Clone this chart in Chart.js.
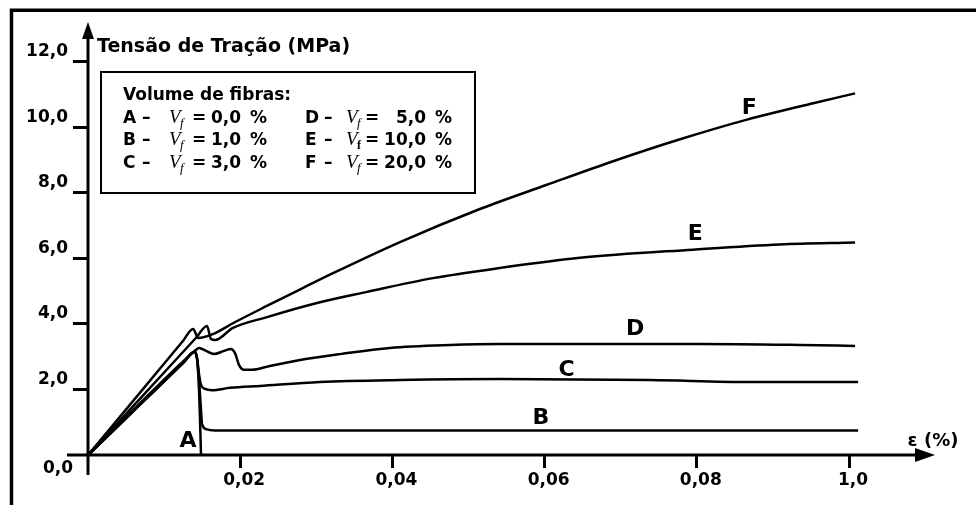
<!DOCTYPE html>
<html>
<head>
<meta charset="utf-8">
<script src="https://cdn.jsdelivr.net/npm/chart.js@4.4.0/dist/chart.umd.min.js"></script>
<style>
  html, body { margin: 0; padding: 0; background: #fff; }
  #wrap { width: 976px; height: 505px; position: relative; }
</style>
</head>
<body>
<div id="wrap"><canvas id="grafico"></canvas></div>
<script>
// deformação (%) e tensão (MPa), uma curva por teor de fibras
const epsA = [0, 0.007, 0.0125, 0.0140, 0.01432, 0.01459, 0.01472, 0.01485];
const sigA = [0, 1.575, 2.81, 3.15, 2.96, 1.98, 1.07, 0];

const epsB = [0, 0.007, 0.0125, 0.0140, 0.01432, 0.01459, 0.01485, 0.01498, 0.01551, 0.01669, 0.02786, 0.05414, 0.1012];
const sigB = [0, 1.575, 2.81, 3.15, 2.96, 2.29, 1.37, 0.95, 0.79, 0.75, 0.75, 0.75, 0.75];

const epsC = [0, 0.007, 0.0125, 0.0140, 0.01432, 0.01459, 0.01485, 0.01537, 0.01629, 0.01866, 0.0226, 0.03049, 0.041, 0.05414, 0.07385, 0.08699, 0.1012];
const sigC = [0, 1.575, 2.81, 3.15, 2.96, 2.47, 2.14, 2.02, 1.98, 2.05, 2.11, 2.23, 2.29, 2.32, 2.29, 2.23, 2.23];

const epsD = [0, 0.007, 0.0125, 0.01406, 0.01459, 0.01551, 0.01656, 0.01787, 0.01879, 0.01932, 0.01984, 0.0205, 0.02155, 0.02392, 0.02786, 0.03311, 0.03968, 0.04757, 0.05414, 0.06728, 0.08042, 0.09356, 0.1008];
const sigD = [0, 1.62, 2.86, 3.18, 3.27, 3.18, 3.08, 3.18, 3.24, 3.11, 2.75, 2.60, 2.60, 2.72, 2.90, 3.08, 3.27, 3.36, 3.39, 3.39, 3.39, 3.36, 3.33];

const epsE = [0, 0.007, 0.0142, 0.01564, 0.01616, 0.01669, 0.01905, 0.02352, 0.03009, 0.03666, 0.04534, 0.05414, 0.06465, 0.0795, 0.0909, 0.1008];
const sigE = [0, 1.76, 3.58, 3.94, 3.54, 3.51, 3.88, 4.21, 4.64, 4.98, 5.40, 5.71, 6.02, 6.27, 6.43, 6.49];

const epsF = [0, 0.007, 0.0125, 0.0138, 0.0145, 0.0164, 0.0191, 0.0235, 0.0279, 0.0322, 0.0410, 0.0515, 0.0603, 0.0690, 0.0778, 0.0866, 0.0953, 0.1008];
const sigF = [0, 1.95, 3.49, 3.85, 3.57, 3.69, 4.03, 4.55, 5.06, 5.55, 6.50, 7.51, 8.25, 8.97, 9.64, 10.24, 10.74, 11.04];

const xTicks = [0.02, 0.04, 0.06, 0.08, 0.10];
const xTickLabels = ['0,02', '0,04', '0,06', '0,08', '1,0'];
const yTicks = [2, 4, 6, 8, 10, 12];
const yTickLabels = ['2,0', '4,0', '6,0', '8,0', '10,0', '12,0'];

const tituloY = 'Tensão de Tração (MPa)';
const tituloX = 'ε (%)';
const origemLabel = '0,0';

const legendaTitulo = 'Volume de fibras:';
const legendaLetras = ['A', 'B', 'C', 'D', 'E', 'F'];
const legendaNumeros = ['0,0', '1,0', '3,0', '5,0', '10,0', '20,0'];

// onde fica a letra de cada curva (em unidades do gráfico)
const letraEps = [0.01314, 0.0595, 0.0629, 0.0719, 0.0798, 0.0869];
const letraSig = [0.43, 1.13, 2.60, 3.85, 6.75, 10.6];

const FONTE = '"DejaVu Sans", sans-serif';
const SERIFA = '"Liberation Serif", serif';

Chart.defaults.font.family = FONTE;
Chart.defaults.font.weight = 'bold';
Chart.defaults.color = '#000';

function serie(eps, sig) {
    return eps.map((e, i) => ({ x: e, y: sig[i] }));
}

const curvas = [
    [epsA, sigA], [epsB, sigB], [epsC, sigC],
    [epsD, sigD], [epsE, sigE], [epsF, sigF]
];

const moldura = {
    id: 'moldura',
    afterDraw(chart) {
        const ctx = chart.ctx;
        const x = chart.scales.x;
        const y = chart.scales.y;
        const x0 = x.getPixelForValue(0);
        const y0 = y.getPixelForValue(0);

        ctx.save();
        ctx.strokeStyle = '#000';
        ctx.fillStyle = '#000';
        ctx.lineCap = 'butt';

        // moldura externa (só topo e lado esquerdo aparecem)
        ctx.lineWidth = 3.5;
        ctx.beginPath();
        ctx.moveTo(11.5, 505);
        ctx.lineTo(11.5, 10.3);
        ctx.lineTo(976, 10.3);
        ctx.stroke();

        // eixos com setas
        ctx.lineWidth = 3;
        ctx.beginPath();
        ctx.moveTo(x0, y0 + 20);
        ctx.lineTo(x0, y.top + 12);
        ctx.moveTo(x0 - 21, y0);
        ctx.lineTo(x.right - 15, y0);
        ctx.stroke();

        ctx.beginPath();
        ctx.moveTo(x0, y.top);
        ctx.lineTo(x0 - 6, y.top + 17);
        ctx.lineTo(x0 + 6, y.top + 17);
        ctx.closePath();
        ctx.fill();

        ctx.beginPath();
        ctx.moveTo(x.right, y0);
        ctx.lineTo(x.right - 20, y0 - 7);
        ctx.lineTo(x.right - 20, y0 + 7);
        ctx.closePath();
        ctx.fill();

        // textos dos eixos
        ctx.font = 'bold 19px ' + FONTE;
        ctx.textAlign = 'left';
        ctx.textBaseline = 'alphabetic';
        ctx.fillText(tituloY, x0 + 9, 52);

        ctx.font = 'bold 18px ' + FONTE;
        ctx.textAlign = 'center';
        ctx.textBaseline = 'middle';
        ctx.fillText(tituloX, x.right - 2, y0 - 14);

        ctx.font = 'bold 17px ' + FONTE;
        ctx.textAlign = 'right';
        ctx.fillText(origemLabel, x0 - 15, y0 + 14);

        // letras das curvas
        ctx.font = 'bold 22px ' + FONTE;
        ctx.textAlign = 'center';
        for (let i = 0; i < legendaLetras.length; i++) {
            ctx.fillText(legendaLetras[i], x.getPixelForValue(letraEps[i]), y.getPixelForValue(letraSig[i]));
        }

        // caixa da legenda
        ctx.lineWidth = 2;
        ctx.strokeRect(101, 72, 374, 121);
        ctx.textBaseline = 'alphabetic';
        ctx.textAlign = 'left';
        ctx.font = 'bold 17px ' + FONTE;
        ctx.fillText(legendaTitulo, 123, 100);

        for (let i = 0; i < legendaLetras.length; i++) {
            let col = i < 3 ? 0 : 1;
            let bx = col ? 305 : 123;
            let fim = col ? 452 : 267;
            let by = 122.5 + (i % 3) * 22.5;

            ctx.font = 'bold 17px ' + FONTE;
            ctx.textAlign = 'left';
            ctx.fillText(legendaLetras[i], bx, by);
            ctx.fillText('–', bx + 19, by);
            ctx.fillText('=', col ? 365 : 192, by);
            ctx.textAlign = 'right';
            ctx.fillText(legendaNumeros[i], fim - 26, by);
            ctx.fillText('%', fim, by);

            ctx.textAlign = 'left';
            ctx.font = 'italic 19px ' + SERIFA;
            ctx.fillText('V', col ? 346 : 169, by);
            ctx.font = (legendaLetras[i] === 'E' ? 'bold 12px ' : 'italic 13px ') + SERIFA;
            ctx.fillText('f', col ? 357 : 180, by + 4);
        }

        ctx.restore();
    }
};

new Chart(document.getElementById('grafico'), {
    type: 'scatter',
    data: {
        datasets: curvas.map((c, i) => ({
            label: legendaLetras[i],
            data: serie(c[0], c[1]),
            showLine: true,
            borderColor: '#000',
            backgroundColor: '#000',
            borderWidth: 2.5,
            pointRadius: 0,
            cubicInterpolationMode: 'monotone',
            clip: false
        }))
    },
    options: {
        responsive: true,
        maintainAspectRatio: false,
        animation: false,
        events: [],
        layout: { padding: { top: 22, right: 41, left: 0, bottom: 0 } },
        plugins: {
            legend: { display: false },
            tooltip: { enabled: false }
        },
        scales: {
            x: {
                type: 'linear',
                min: 0,
                max: 0.1113,
                afterBuildTicks: function(s) { s.ticks = xTicks.map(v => ({ value: v })); },
                afterFit: function(s) { s.height = 50; },
                border: { display: false },
                grid: { drawOnChartArea: false, tickLength: 13, tickWidth: 3, tickColor: '#000' },
                ticks: {
                    autoSkip: false, maxRotation: 0, padding: 2, labelOffset: 4,
                    font: { size: 17 },
                    callback: (v, i) => xTickLabels[i]
                }
            },
            y: {
                type: 'linear',
                min: 0,
                max: 13.22,
                afterBuildTicks: function(s) { s.ticks = yTicks.map(v => ({ value: v })); },
                afterFit: function(s) { s.width = 88; },
                border: { display: false },
                grid: { drawOnChartArea: false, tickLength: 15, tickWidth: 3, tickColor: '#000' },
                ticks: {
                    autoSkip: false, padding: 5, labelOffset: -10,
                    font: { size: 17 },
                    callback: (v, i) => yTickLabels[i]
                }
            }
        }
    },
    plugins: [moldura]
});
</script>
</body>
</html>
